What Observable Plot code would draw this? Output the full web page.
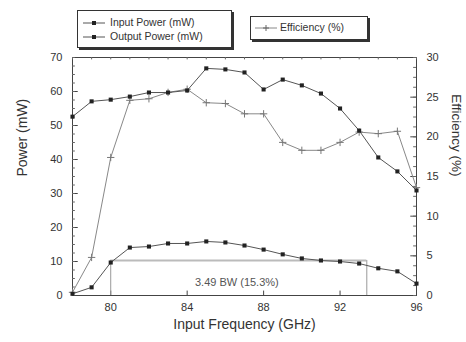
<!DOCTYPE html>
<html>
<head>
<meta charset="utf-8">
<script src="https://cdn.jsdelivr.net/npm/d3@7"></script>
<script src="https://cdn.jsdelivr.net/npm/@observablehq/plot@0.6"></script>
<style>
  html, body { margin: 0; padding: 0; background: #fff; }
  #wrap { position: relative; width: 466px; height: 342px; font-family: "Liberation Sans", Arial, sans-serif; }
  .lg { position: absolute; border: 1px solid #333; box-shadow: 2px 2px 0 #333; background: #fff; font-size: 10.5px; color: #333; }
  .row { position: absolute; white-space: nowrap; }
  svg.sym { position: absolute; }
</style>
</head>
<body>
<div id="wrap"></div>
<script>
// ---- data ----
const freq = [78, 79, 80, 81, 82, 83, 84, 85, 86, 87, 88, 89, 90, 91, 92, 93, 94, 95, 96];
const inputPower = [52.6, 57.1, 57.6, 58.5, 59.7, 59.7, 60.3, 66.8, 66.5, 65.6, 60.6, 63.5, 61.8, 59.4, 55.0, 48.5, 40.6, 36.5, 30.9];
const outputPower = [0.5, 2.4, 9.7, 14.1, 14.4, 15.3, 15.3, 15.9, 15.6, 14.7, 13.5, 12.1, 10.9, 10.3, 10.0, 9.4, 8.0, 7.1, 3.5];
const efficiency = [0.4, 4.8, 17.4, 24.6, 24.8, 25.6, 26.0, 24.3, 24.2, 22.9, 22.9, 19.3, 18.3, 18.3, 19.3, 20.6, 20.4, 20.7, 13.6];
const xTicks = [80, 84, 88, 92, 96];
const powerTicks = [0, 10, 20, 30, 40, 50, 60, 70];
const effTicks = [0, 5, 10, 15, 20, 25, 30];
const bwStart = 80, bwEnd = 93.4, bwLevel = 10.3;
const bwLabel = "3.49 BW (15.3%)";
const bwLabelPos = {x: 86.6, y: 3.8};
const legendLabels = ["Input Power (mW)", "Output Power (mW)", "Efficiency (%)"];

// efficiency mapped onto the power scale
const K = 70 / 30;
const rows = freq.map((f, i) => ({f, inp: inputPower[i], out: outputPower[i], eff: efficiency[i] * K}));
const minorPower = d3.range(0, 70.1, 2.5);
const minorEff = d3.range(0, 30.1, 1.25).map(e => e * K);
const minorX = d3.range(78, 96.1, 1);

const ink = "#222";
const plot = Plot.plot({
  width: 466,
  height: 342,
  marginLeft: 72,
  marginRight: 50,
  marginTop: 57,
  marginBottom: 47,
  style: {fontFamily: "Liberation Sans, Arial, sans-serif", fontSize: "11px", color: "#333", background: "white"},
  x: {domain: [78, 96]},
  y: {domain: [0, 70]},
  marks: [
    Plot.frame({stroke: "#444", strokeWidth: 1}),
    // inward ticks
    Plot.ruleY(powerTicks, {y: d => d, x1: 78, x2: 78.3, stroke: "#444"}),
    Plot.ruleY(minorPower, {y: d => d, x1: 78, x2: 78.15, stroke: "#666"}),
    Plot.ruleY(effTicks.map(e => e * K), {y: d => d, x1: 95.7, x2: 96, stroke: "#444"}),
    Plot.ruleY(minorEff, {y: d => d, x1: 95.85, x2: 96, stroke: "#666"}),
    Plot.ruleX(xTicks, {x: d => d, y1: 0, y2: 1.3, stroke: "#444"}),
    Plot.ruleX(minorX, {x: d => d, y1: 70, y2: 69.3, stroke: "#666"}),
    Plot.axisX({ticks: xTicks, tickSize: 0, tickPadding: 8, label: null}),
    Plot.axisY({ticks: powerTicks, tickSize: 0, tickPadding: 10, label: null}),
    Plot.axisY({anchor: "right", ticks: effTicks.map(e => e * K), tickFormat: v => String(Math.round(v / K)), tickSize: 0, tickPadding: 10, label: null}),
    // bandwidth annotation
    Plot.ruleY([bwLevel], {x1: bwStart, x2: bwEnd, stroke: "#bbb", strokeWidth: 2}),
    Plot.ruleX([bwStart, bwEnd], {x: d => d, y1: 0, y2: bwLevel, stroke: "#999", strokeWidth: 1}),
    Plot.text([bwLabel], {x: bwLabelPos.x, y: bwLabelPos.y, fontSize: 11, fill: "#555"}),
    // series
    Plot.line(rows, {x: "f", y: "eff", stroke: "#888", strokeWidth: 1}),
    Plot.dot(rows, {x: "f", y: "eff", symbol: "plus", r: 2.5, stroke: "#777", strokeWidth: 1}),
    Plot.line(rows, {x: "f", y: "inp", stroke: "#555", strokeWidth: 1}),
    Plot.dot(rows, {x: "f", y: "inp", symbol: "square", r: 2.3, fill: ink, stroke: "none"}),
    Plot.line(rows, {x: "f", y: "out", stroke: "#555", strokeWidth: 1}),
    Plot.dot(rows, {x: "f", y: "out", symbol: "square", r: 2.3, fill: ink, stroke: "none"}),
    // axis titles
    Plot.text(["Power (mW)"], {frameAnchor: "left", dx: -50, rotate: -90, fontSize: 14, fill: "#333"}),
    Plot.text(["Efficiency (%)"], {frameAnchor: "right", dx: 40, rotate: 90, fontSize: 13.5, fill: "#333"}),
    Plot.text(["Input Frequency (GHz)"], {frameAnchor: "bottom", dy: 33, fontSize: 14, fill: "#333"})
  ]
});

const wrap = document.getElementById("wrap");
wrap.appendChild(plot);

// legend overlays
function symSvg(kind) {
  const s = d3.create("svg").attr("class", "sym").attr("width", 22).attr("height", 8);
  s.append("line").attr("x1", 0).attr("x2", 22).attr("y1", 4).attr("y2", 4).attr("stroke", kind === "eff" ? "#888" : "#555");
  if (kind === "eff") {
    s.append("path").attr("d", "M8,4H14M11,1V7").attr("stroke", "#666");
  } else {
    s.append("rect").attr("x", 9).attr("y", 2).attr("width", 4).attr("height", 4).attr("fill", ink);
  }
  return s.node();
}
const box1 = document.createElement("div");
box1.className = "lg";
Object.assign(box1.style, {left: "77px", top: "10px", width: "153px", height: "36px"});
[[legendLabels[0], 5], [legendLabels[1], 19]].forEach(([t, y]) => {
  const sv = symSvg("pow"); sv.style.left = "5px"; sv.style.top = (y + 3) + "px"; box1.appendChild(sv);
  const r = document.createElement("div"); r.className = "row"; r.textContent = t;
  r.style.left = "32px"; r.style.top = y + "px"; box1.appendChild(r);
});
wrap.appendChild(box1);

const box2 = document.createElement("div");
box2.className = "lg";
Object.assign(box2.style, {left: "250px", top: "16px", width: "116px", height: "22px"});
{
  const sv = symSvg("eff"); sv.style.left = "4px"; sv.style.top = "7px"; box2.appendChild(sv);
  const r = document.createElement("div"); r.className = "row"; r.textContent = legendLabels[2];
  r.style.left = "29px"; r.style.top = "4px"; box2.appendChild(r);
}
wrap.appendChild(box2);
</script>
</body>
</html>
